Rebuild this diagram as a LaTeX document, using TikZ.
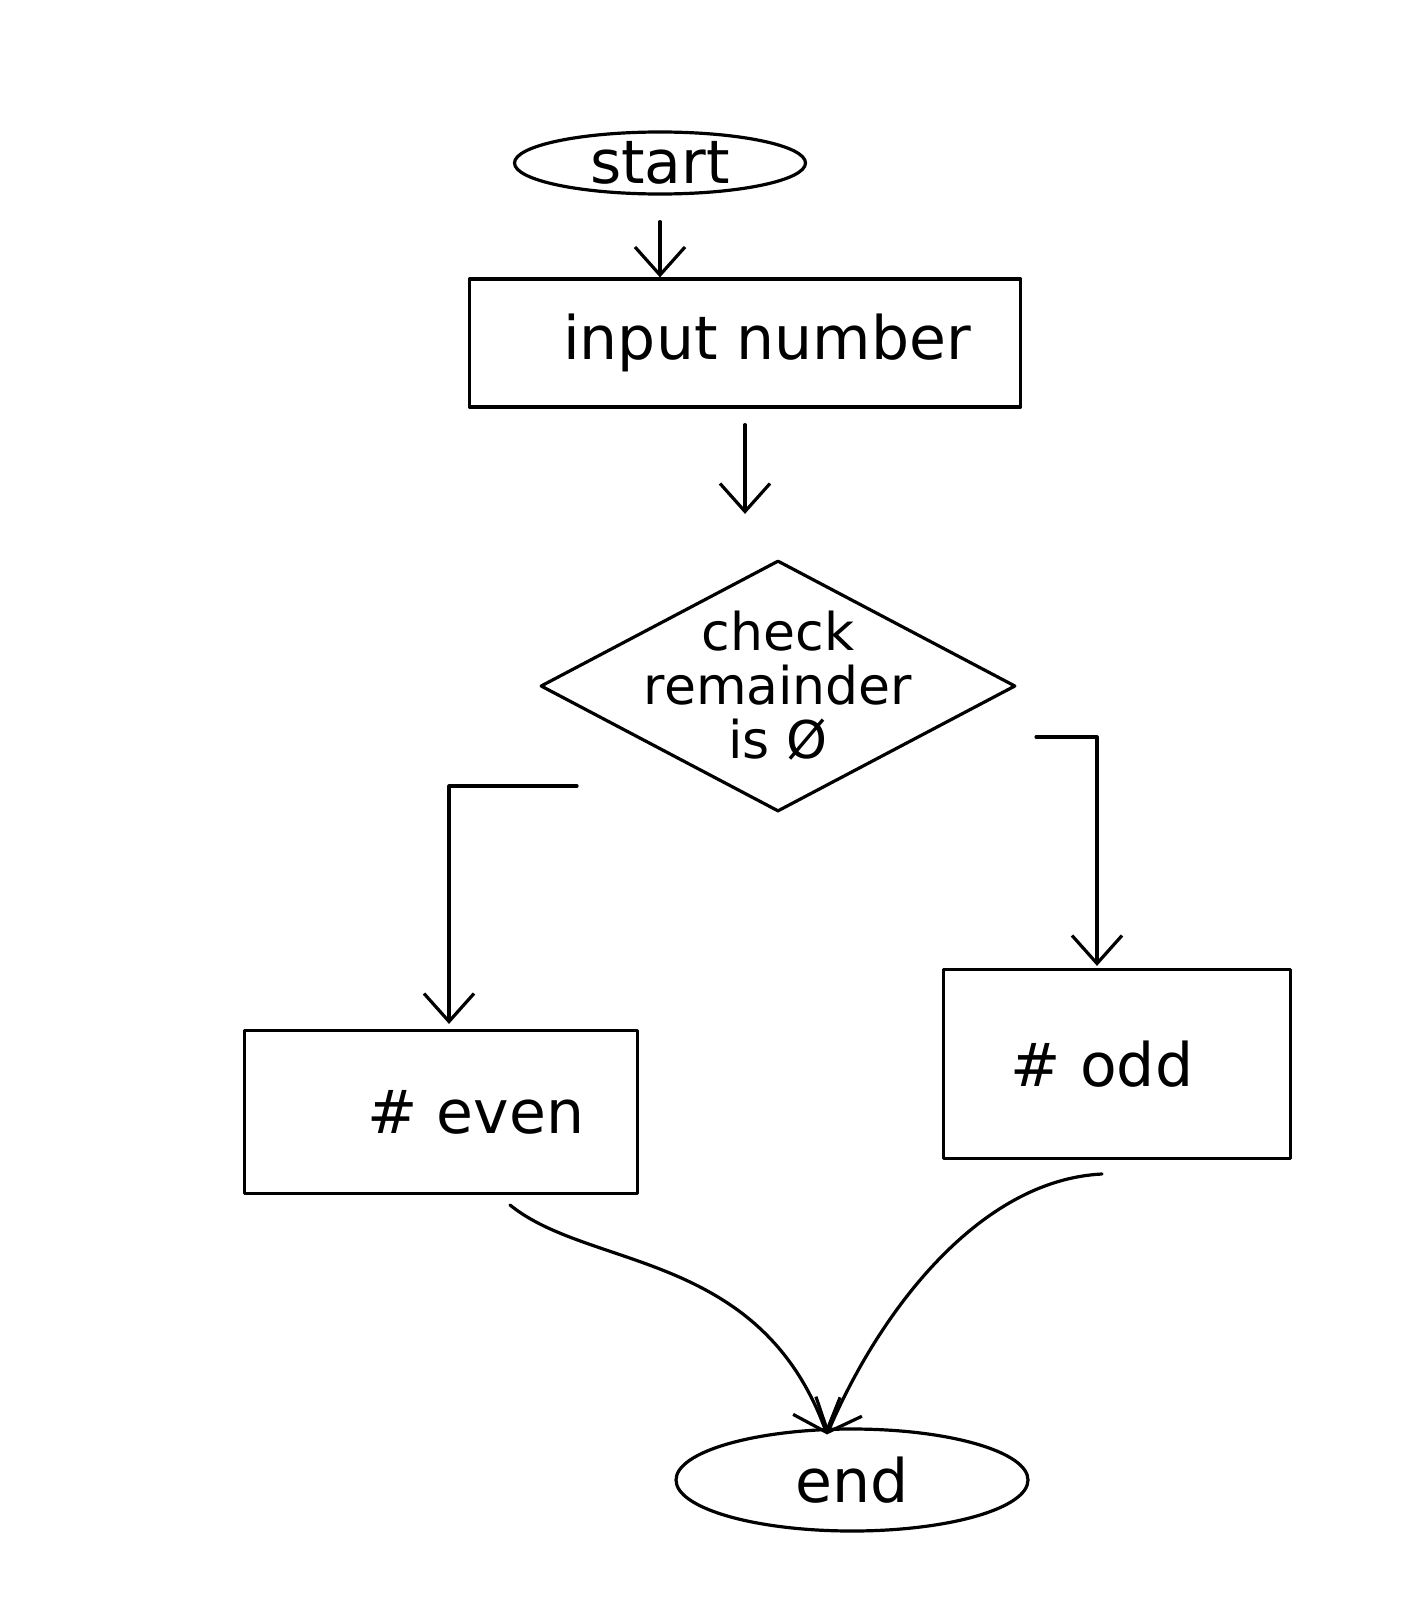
\documentclass[tikz,border=0pt]{standalone}
\usepackage{fontspec}
\setmainfont{DejaVu Sans}
\usetikzlibrary{shapes.geometric,arrows.meta,calc}
\begin{document}
\begin{tikzpicture}[x=1pt,y=-1pt,
  line width=3.2pt, line cap=round, line join=round,
  box/.style={draw, rectangle, inner sep=0pt},
  oval/.style={draw, ellipse, inner sep=0pt},
  txt/.style={font=\fontsize{60}{62}\selectfont},
  arr/.style={-{Straight Barb[length=28pt,width=50pt,line width=3.2pt]}}]
\fill[white] (0,0) rectangle (1426,1600);
\useasboundingbox (0,0) rectangle (1426,1600);

\node[oval, minimum width=291pt, minimum height=62pt,
  label={[txt]center:start}] (start) at (660,163) {};
\node[box, minimum width=551pt, minimum height=128pt,
  label={[txt, xshift=22pt]center:input number}] (inp) at (745,343) {};
\node[diamond, draw, inner sep=0pt, minimum width=475pt, minimum height=251pt,
  label={[align=center, font=\fontsize{52}{54}\selectfont]center:check\\remainder\\is Ø}] (dec) at (778,686) {};
\node[box, minimum width=393pt, minimum height=163pt,
  label={[txt, xshift=35pt]center:\# even}] (even) at (441,1112) {};
\node[box, minimum width=347pt, minimum height=189pt,
  label={[txt, xshift=-15pt]center:\# odd}] (odd) at (1117,1064) {};
\node[oval, minimum width=352pt, minimum height=102pt,
  label={[txt]center:end}] (end) at (852,1480) {};

\draw[arr, shorten <=26pt] (start.south) -- (start.south |- inp.north);
\draw[arr, shorten <=16pt, shorten >=45pt] (inp.south) -- (inp.south |- dec.north);

\coordinate (dl) at (577,786);
\coordinate (dr) at (1036,737);
\draw[arr, shorten >=5pt] (dl) -| ([xshift=8pt]even.north);
\draw[arr, shorten >=2pt] (dr) -| ([xshift=-20pt]odd.north);

\coordinate (el) at (510,1205);
\coordinate (ol) at (1102,1174);
\draw[arr] (el) .. controls (590,1270) and (760,1250) .. ([xshift=-25pt,yshift=-7pt]end.north);
\draw[arr] (ol) .. controls (980,1180) and (880,1310) .. ([xshift=-25pt,yshift=-7pt]end.north);
\end{tikzpicture}
\end{document}
